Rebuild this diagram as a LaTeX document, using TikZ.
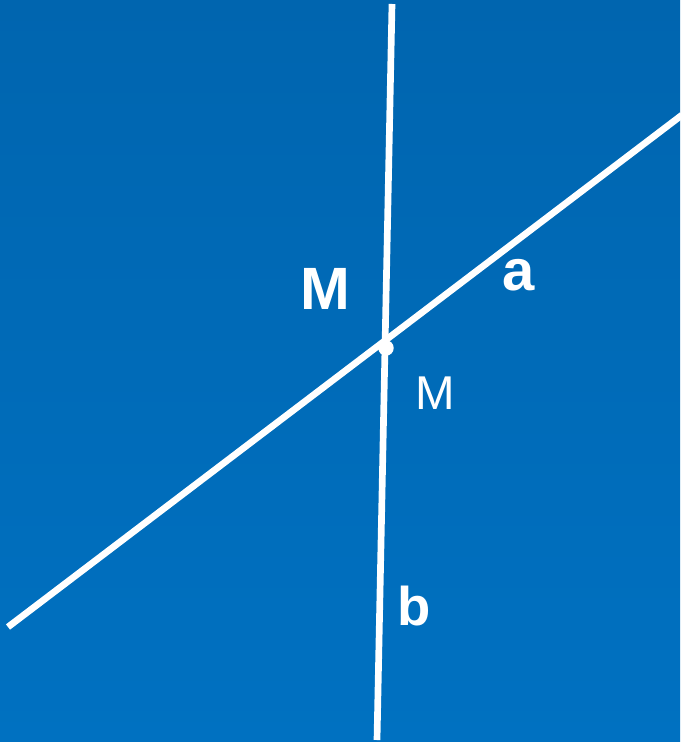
\documentclass[tikz,border=0pt]{standalone}
\usepackage{fontspec}
\setmainfont{Liberation Sans}
\usepackage{tikz}
\usetikzlibrary{positioning,calc}
\definecolor{bgTop}   {RGB}{0, 101, 175}
\definecolor{bgBottom}{RGB}{0, 113, 193}
\definecolor{lineWhite}{RGB}{255,255,255}

\begin{document}
\begin{tikzpicture}[x=0.02cm,y=-0.02cm,
    ligne/.style={draw=lineWhite,line width=3.8pt},
    lettre/.style={lineWhite,font=\bfseries\fontsize{33}{33}\selectfont,inner sep=0pt},
    petite/.style={lineWhite,font=\fontsize{27}{27}\selectfont,inner sep=0pt}]
        % fond
        \shade[top color=bgTop,bottom color=bgBottom] (0,0) rectangle (680,742);
        \useasboundingbox (0,0) rectangle (680,742);

        % droites a et b
        \coordinate (aStart) at (8,627);
        \coordinate (aEnd)   at (682,115);
        \coordinate (bStart) at (392,4);
        \coordinate (bEnd)   at (377,740);
        \draw[ligne] (aStart) -- (aEnd);
        \draw[ligne] (bStart) -- (bEnd);

        % point M
        \fill[lineWhite] (386,348) circle (4.4pt);

        % etiquettes
        \node[lettre,anchor=base,font=\bfseries\fontsize{34}{34}\selectfont] (mBig) at (325,310) {M};
        \node[lettre,anchor=base] (aLab) at (519,291) {a};
        \node[lettre,anchor=base,font=\bfseries\fontsize{31}{31}\selectfont] (bLab) at (414,625) {b};
        \node[petite,anchor=base] (mSmall) at (435,409) {M};
      \end{tikzpicture}
\end{document}
